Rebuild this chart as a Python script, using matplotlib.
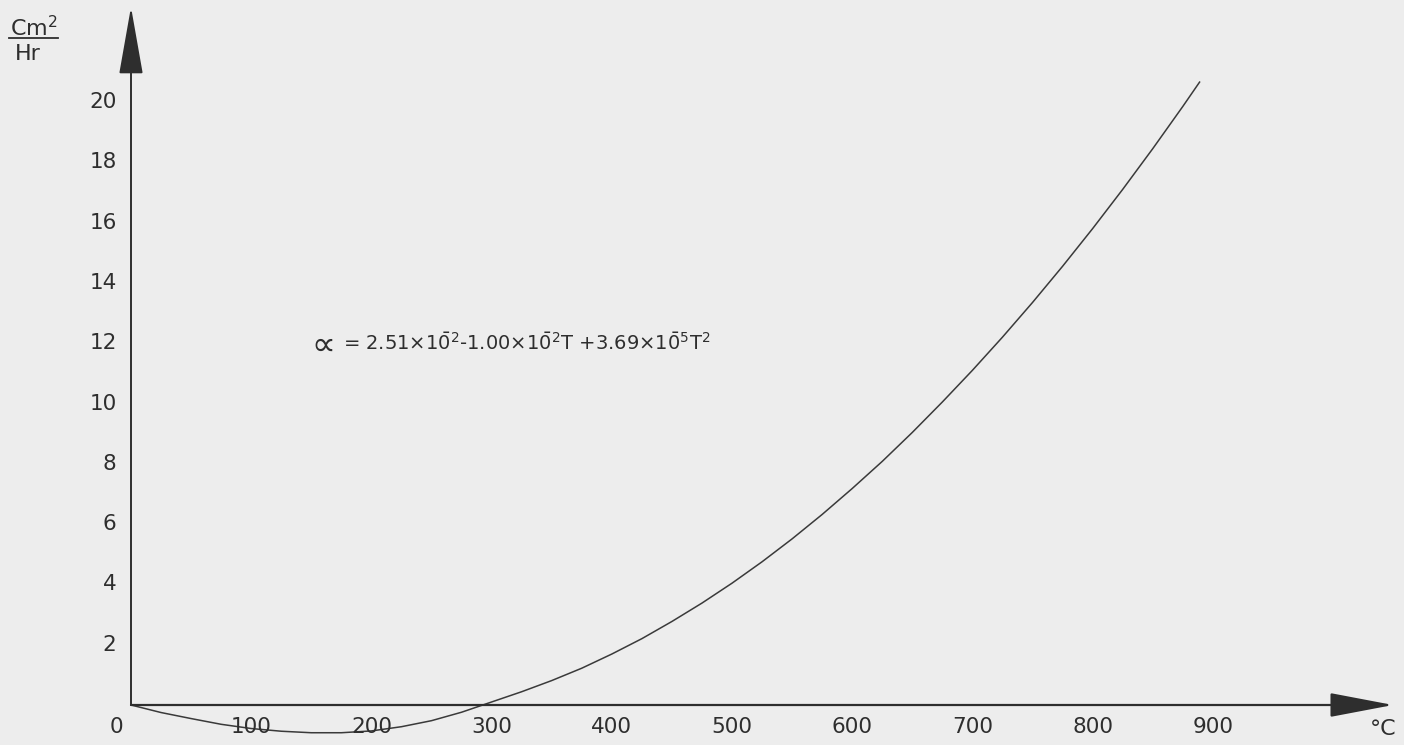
import matplotlib.pyplot as plt
import numpy as np

# temperature (deg C) and alpha (cm^2/hr)
temp = [0, 25, 50, 75, 100, 125, 150, 175, 200, 225, 250, 275, 300, 325, 350,
        375, 400, 425, 450, 475, 500, 525, 550, 575, 600, 625, 650, 675, 700,
        725, 750, 775, 800, 825, 850, 875, 889]
alpha = [0.0, -0.25, -0.45, -0.64, -0.78, -0.87, -0.92, -0.92, -0.86, -0.72,
         -0.52, -0.24, 0.10, 0.44, 0.81, 1.22, 1.69, 2.20, 2.77, 3.38, 4.04,
         4.75, 5.51, 6.32, 7.18, 8.08, 9.04, 10.05, 11.10, 12.20, 13.35,
         14.55, 15.80, 17.10, 18.45, 19.85, 20.66]

xticks = [100, 200, 300, 400, 500, 600, 700, 800, 900]
yticks = [2, 4, 6, 8, 10, 12, 14, 16, 18, 20]

bg = '#ededed'
ink = '#2e2e2e'
font = ['DejaVu Sans']

fig = plt.figure(figsize=(14.04, 7.45), dpi=100, facecolor=bg)
ax = fig.add_axes([0, 0, 1, 1])
ax.set_facecolor(bg)
# pixel geometry: origin at (131, 705), 1.202 px per degree, 30.15 px per unit
ax.set_xlim(-131 / 1.202, (1404 - 131) / 1.202)
ax.set_ylim(-(745 - 705) / 30.15, 705 / 30.15)
ax.axis('off')

# axes with arrow heads
ax.annotate('', xy=(1050, 0), xytext=(0, 0),
            arrowprops=dict(arrowstyle='-|>,head_length=2.0,head_width=0.38',
                            mutation_scale=20, lw=1.6, color=ink,
                            shrinkA=0, shrinkB=0))
ax.annotate('', xy=(0, 23.15), xytext=(0, 0),
            arrowprops=dict(arrowstyle='-|>,head_length=2.15,head_width=0.38',
                            mutation_scale=20, lw=1.4, color=ink,
                            shrinkA=0, shrinkB=0))

ax.plot(temp, alpha, color='#3a3a3a', lw=1.1)

for t in xticks:
    ax.text(t, -0.73, str(t), ha='center', va='center', fontsize=15.5,
            color=ink, family=font)
ax.text(-12, -0.73, '0', ha='center', va='center', fontsize=15.5,
        color=ink, family=font)
for v in yticks:
    ax.text(-12, v, str(v), ha='right', va='center', fontsize=15.5,
            color=ink, family=font)

ax.text(1042, -0.8, '°C', ha='center', va='center', fontsize=16,
        color=ink, family=font)

# unit label  cm^2 / hr
ax.text(34 / 1.202 - 109, (705 - 28) / 30.15, 'Cm$^2$', ha='center',
        va='center', fontsize=16, color=ink, family=font)
ax.plot([9 / 1.202 - 109, 58 / 1.202 - 109],
        [(705 - 38) / 30.15] * 2, color=ink, lw=1.3)
ax.text(28 / 1.202 - 109, (705 - 54) / 30.15, 'Hr', ha='center',
        va='center', fontsize=16, color=ink, family=font)

ax.text(145, 11.95, r'$\propto$', ha='left', va='center', fontsize=24,
        color=ink, family=font)
ax.text(176, 12, r'= 2.51$\times$1$\bar{0}^{2}$-1.00$\times$1$\bar{0}^{2}$T'
        r' +3.69$\times$1$\bar{0}^{5}$T$^{2}$', ha='left', va='center',
        fontsize=14, color=ink, family=font)

fig.savefig('out.png', dpi=100, facecolor=bg)
